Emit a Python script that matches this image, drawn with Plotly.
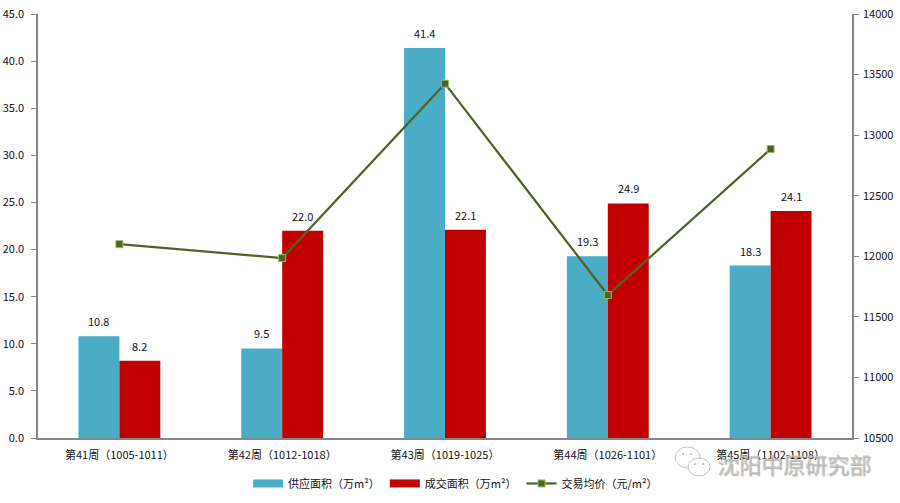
import plotly.graph_objects as go

categories = ["第41周（1005-1011）", "第42周（1012-1018）", "第43周（1019-1025）", "第44周（1026-1101）", "第45周（1102-1108）"]
supply = [10.8, 9.5, 41.4, 19.3, 18.3]
deal = [8.2, 22.0, 22.1, 24.9, 24.1]
price = [12100, 11985, 13425, 11680, 12885]
left_ticks = [0, 5, 10, 15, 20, 25, 30, 35, 40, 45]
right_ticks = list(range(10500, 14001, 500))
supply_name = "供应面积（万m²）"
deal_name = "成交面积（万m²）"
price_name = "交易均价（元/m²）"

FONT = "Noto Sans CJK SC, Noto Sans, sans-serif"
TXT = "#111111"
AXIS = "#868686"
BLUE = "#4BACC6"
RED = "#C00000"
W, H = 900, 503
SZ = 11
L, R, T, B = 37.5, 852, 14, 438

fig = go.Figure()
fig.add_bar(name=supply_name, x=categories, y=supply, marker=dict(color=BLUE, line=dict(width=0)), showlegend=False)
fig.add_bar(name=deal_name, x=categories, y=deal, marker=dict(color=RED, line=dict(width=0)), showlegend=False)
# legend keys with the wide flat swatches of the reference
fig.add_scatter(name=supply_name, x=[None], y=[None], mode="lines", line=dict(color=BLUE, width=8))
fig.add_scatter(name=deal_name, x=[None], y=[None], mode="lines", line=dict(color=RED, width=8))
fig.add_scatter(name=price_name, x=categories, y=price, yaxis="y2", mode="lines+markers",
                line=dict(color="#4F6228", width=2.25),
                marker=dict(symbol="square", size=7, color="#4F6228", line=dict(color="#9BBB59", width=1)))

fig.update_layout(
    width=W, height=H, autosize=False,
    margin=dict(l=L, r=W - R, t=T, b=H - B, autoexpand=False),
    paper_bgcolor="white", plot_bgcolor="white",
    barmode="group", bargap=0.497, bargroupgap=0,
    font=dict(family=FONT, size=SZ, color=TXT),
    showlegend=True,
    legend=dict(orientation="h", x=0.513, xanchor="center", xref="paper", y=-0.073, yanchor="top",
                font=dict(size=SZ, color=TXT, family=FONT), traceorder="normal", itemwidth=30),
    xaxis=dict(showline=True, linecolor=AXIS, linewidth=1.5, ticks="", showgrid=False, ticklabelstandoff=6,
               tickfont=dict(size=SZ, color=TXT, family=FONT)),
    yaxis=dict(range=[0, 45], tickvals=left_ticks, ticktext=[f"{v:.1f}" for v in left_ticks],
               showline=True, linecolor=AXIS, linewidth=1.5, ticks="outside", ticklen=5,
               tickcolor=AXIS, showgrid=False, zeroline=False, ticklabelstandoff=5,
               tickfont=dict(size=SZ, color=TXT, family=FONT)),
    yaxis2=dict(range=[10500, 14000], tickvals=right_ticks, overlaying="y", side="right",
                showline=True, linecolor=AXIS, linewidth=1.5, ticks="outside", ticklen=5,
                tickcolor=AXIS, showgrid=False, zeroline=False, tickformat="d", ticklabelstandoff=2,
                tickfont=dict(size=SZ, color=TXT, family=FONT)),
)

# data labels above the bars
for vals, dx in ((supply, -20.5), (deal, 20.5)):
    for c, v in zip(categories, vals):
        fig.add_annotation(x=c, y=v, text=f"{v:.1f}", showarrow=False, xshift=dx, yshift=15,
                           xanchor="center", yanchor="middle",
                           font=dict(size=SZ, color=TXT, family=FONT))

def px(x): return (x - L) / (R - L)
def py(y): return (B - y) / (B - T)

# watermark: speech bubbles
shapes = []
for x0, y0, x1, y1 in [(675, 447, 700, 468), (688, 458, 710, 476)]:
    shapes.append(dict(type="circle", xref="paper", yref="paper", x0=px(x0), x1=px(x1), y0=py(y0), y1=py(y1),
                       line=dict(color="#c4c4c4", width=1), fillcolor="rgba(255,255,255,0.85)", layer="above"))
for x0, y0 in [(682, 453), (690, 453), (694, 463), (702, 463)]:
    shapes.append(dict(type="circle", xref="paper", yref="paper", x0=px(x0), x1=px(x0 + 2), y0=py(y0), y1=py(y0 + 2),
                       line=dict(width=0), fillcolor="#b0b0b0", layer="above"))
fig.update_layout(shapes=shapes)

fig.add_annotation(text="沈阳中原研究部", xref="paper", yref="paper", x=px(794), y=py(463), showarrow=False,
                   xanchor="center", yanchor="middle",
                   font=dict(size=22, color="rgba(195,195,195,0.8)", family=FONT,
                             shadow="1px 1px 1px rgba(110,110,110,0.7)"))

fig.write_html("out.html", post_script="document.body.style.margin='0';",
               config={"displayModeBar": False})
